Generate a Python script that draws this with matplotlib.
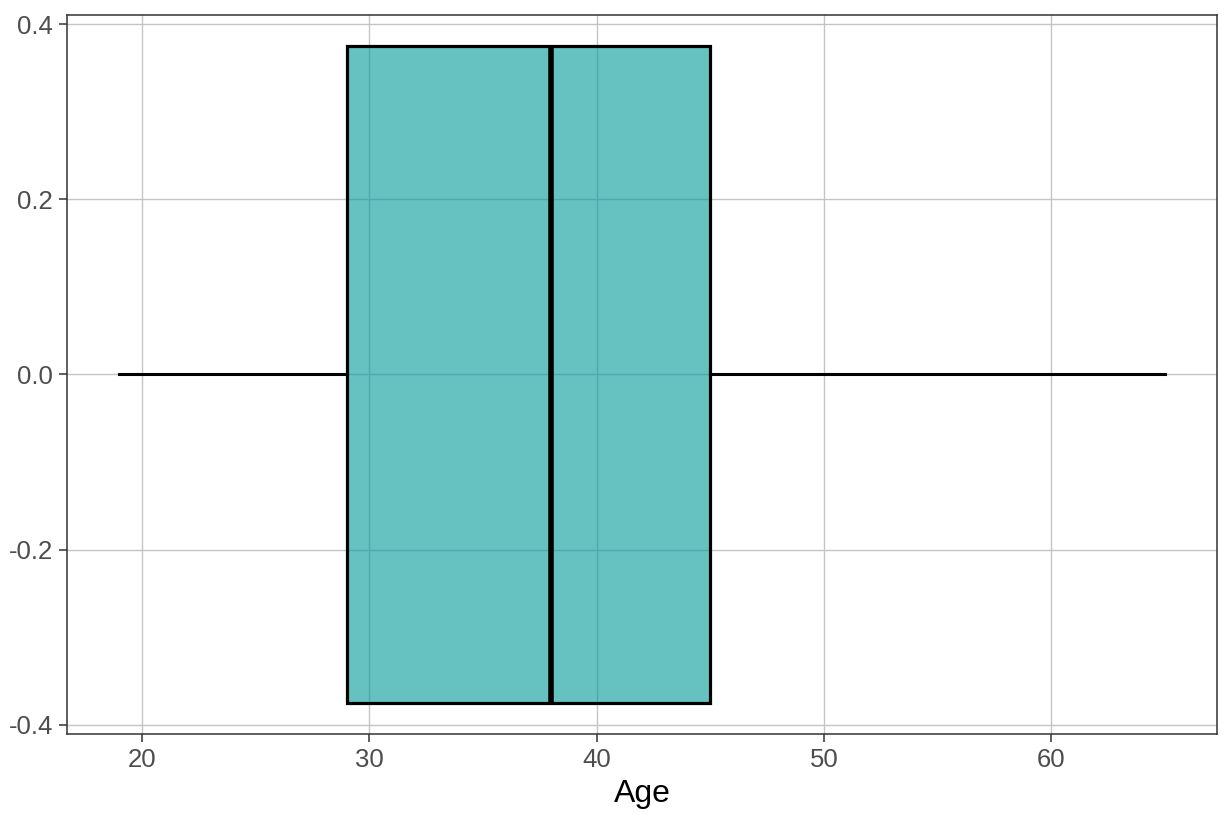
import matplotlib.pyplot as plt
from matplotlib.patches import Rectangle

plt.rcParams['font.family'] = ['Liberation Sans', 'DejaVu Sans']

# boxplot stats for Age
whisker_low = 19
q1 = 29
median = 38
q3 = 45
whisker_high = 65
box_half = 0.375

x_ticks = [20, 30, 40, 50, 60]
y_ticks = [-0.4, -0.2, 0.0, 0.2, 0.4]
y_labels = ['-0.4', '-0.2', '0.0', '0.2', '0.4']

fig = plt.figure(figsize=(12.26, 8.15), dpi=100)
ax = fig.add_axes([0.0547, 0.0994, 0.9380, 0.8822])

ax.grid(True, color='#c4c4c4', linewidth=1.0, zorder=0)
ax.set_axisbelow(True)

# whiskers
ax.plot([whisker_low, q1], [0, 0], color='black', linewidth=2.2, zorder=2)
ax.plot([q3, whisker_high], [0, 0], color='black', linewidth=2.2, zorder=2)

# box
box = Rectangle((q1, -box_half), q3 - q1, 2 * box_half,
                facecolor='#009999', alpha=0.6, edgecolor='none', zorder=1)
ax.add_patch(box)
edge = Rectangle((q1, -box_half), q3 - q1, 2 * box_half,
                 facecolor='none', edgecolor='black', linewidth=2.3, zorder=3)
ax.add_patch(edge)
ax.plot([median, median], [-box_half, box_half], color='black', linewidth=4, zorder=4,
        solid_capstyle='butt')

span = whisker_high - whisker_low
ax.set_xlim(whisker_low - 0.05 * span, whisker_high + 0.05 * span)
ax.set_ylim(-0.4103, 0.4103)

ax.set_xticks(x_ticks)
ax.set_yticks(y_ticks)
ax.set_yticklabels(y_labels)
ax.tick_params(colors='#4d4d4d', labelsize=18.5, length=6, width=1.1, pad=4)
ax.tick_params(axis='both', color='#333333')
for s in ax.spines.values():
    s.set_color('#333333')
    s.set_linewidth(1.1)

ax.set_xlabel('Age', fontsize=23, color='black', labelpad=5)

fig.savefig('out.png', dpi=100)
